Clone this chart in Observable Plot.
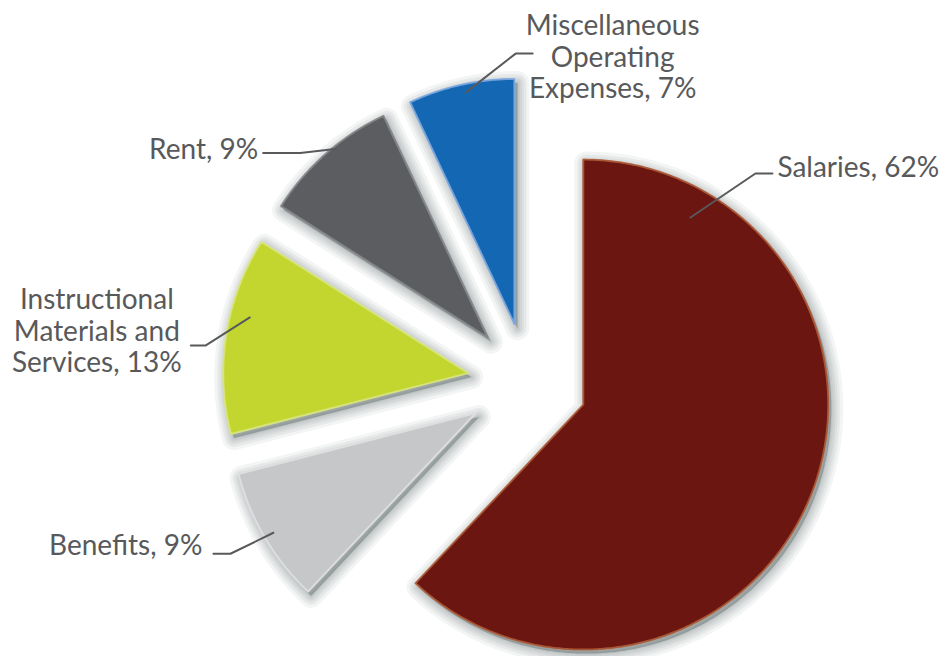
<!DOCTYPE html>
<html><head><meta charset="utf-8">
<script src="https://cdn.jsdelivr.net/npm/d3@7"></script>
<script src="https://cdn.jsdelivr.net/npm/@observablehq/plot@0.6"></script>
<style>
html,body{margin:0;padding:0;background:#fff;}
#chart svg{display:block;}
</style></head><body>
<div id="chart"></div>
<script>
// ---- data ----
const categories = ["Salaries", "Benefits", "Instructional Materials and Services", "Rent", "Miscellaneous Operating Expenses"];
const shares = [62, 9, 13, 9, 7];
const labels = ["Salaries, 62%", "Benefits, 9%", "Instructional\nMaterials and\nServices, 13%", "Rent, 9%", "Miscellaneous\nOperating\nExpenses, 7%"];

// ---- styles ----
const colors = ["#6b1610", "#c6c7c9", "#c3d62f", "#5c5d60", "#1467b3"];
const rims = ["#b5653e", "#e3e4e6", "#dbe78a", "#8c8d90", "#8fb3e6"];
const textColor = "#58595b";
const shadowColor = "#3a3d45";

// ---- layout (pixels) ----
const W = 944, H = 656, R = 245, CX = 527, CY = 382, EXPLODE = 60;
const labelLayout = [
  {angle: 29.8,  r: 0.88, elbow: [65, -44], tail: 17,  text: [5, -7],   anchor: "start"},
  {angle: 239.4, r: 0.96, elbow: [-43, 21], tail: -17, text: [-11, -9], anchor: "end"},
  {angle: 284.3, r: 0.92, elbow: [-44, 28], tail: -15, text: [-94, -15], anchor: "middle"},
  {angle: 321,   r: 0.99, elbow: [-35, 4],  tail: -37, text: [-5, -4],  anchor: "end"},
  {angle: 348.1, r: 0.965, elbow: [50, -39], tail: 17, text: [80, 3],   anchor: "middle"}
];

const rad = Math.PI / 180;
const pie = d3.pie().sort(null).startAngle(0).endAngle(2 * Math.PI)(shares);
const E = EXPLODE / R;

const sliceRows = [];
const leaderRows = [];
const textRows = [];
pie.forEach((p, i) => {
  const name = categories[i];
  const mid = (p.startAngle + p.endAngle) / 2;
  const ox = E * Math.sin(mid), oy = E * Math.cos(mid);
  sliceRows.push({name, x: ox, y: oy});
  const steps = Math.max(8, Math.ceil((p.endAngle - p.startAngle) / (0.5 * rad)));
  for (let k = 0; k <= steps; ++k) {
    const a = p.startAngle + (p.endAngle - p.startAngle) * k / steps;
    sliceRows.push({name, x: ox + Math.sin(a), y: oy + Math.cos(a)});
  }
  sliceRows.push({name, x: ox, y: oy});
  const L = labelLayout[i];
  const ia = L.angle * rad;
  const p0 = {x: ox + L.r * Math.sin(ia), y: oy + L.r * Math.cos(ia)};
  const p1 = {x: p0.x + L.elbow[0] / R, y: p0.y - L.elbow[1] / R};
  const p2 = {x: p1.x + L.tail / R, y: p1.y};
  leaderRows.push({name, ...p0}, {name, ...p1}, {name, ...p2});
  textRows.push({name, label: labels[i], anchor: L.anchor,
    x: p2.x + L.text[0] / R, y: p2.y - L.text[1] / R});
});

// soft drop shadow faked with stacked translucent halos (no SVG filters)
const shadowMarks = [24, 18, 13, 9, 5, 2].map(w =>
  Plot.line(sliceRows, {x: "x", y: "y", z: "name", fill: shadowColor, fillOpacity: 0.06,
    stroke: shadowColor, strokeOpacity: 0.06, strokeWidth: w, strokeLinejoin: "round",
    dx: 3, dy: 4}));
// soft light rim inside each slice
const rimMarks = categories.map((c, i) =>
  Plot.line(sliceRows.filter(d => d.name === c), {x: "x", y: "y",
    fill: "none", stroke: rims[i], strokeWidth: 2, strokeOpacity: 0.8}));

const plot = Plot.plot({
  width: W, height: H,
  margin: 0,
  x: {domain: [-CX / R, (W - CX) / R], axis: null},
  y: {domain: [(CY - H) / R, CY / R], axis: null},
  color: {domain: categories, range: colors},
  marks: [
    ...shadowMarks,
    Plot.line(sliceRows, {x: "x", y: "y", z: "name", fill: "name", stroke: "name", strokeWidth: 1}),
    ...rimMarks,
    Plot.line(leaderRows, {x: "x", y: "y", z: "name", stroke: textColor, strokeWidth: 2}),
    ...textRows.map(t => Plot.text([t], {x: "x", y: "y", text: "label",
      textAnchor: t.anchor, lineAnchor: "middle", lineHeight: 1.125,
      fontFamily: "Lato, 'Open Sans', sans-serif", fontSize: 28, fill: textColor}))
  ]
});
document.getElementById("chart").appendChild(plot);
</script>
</body></html>
